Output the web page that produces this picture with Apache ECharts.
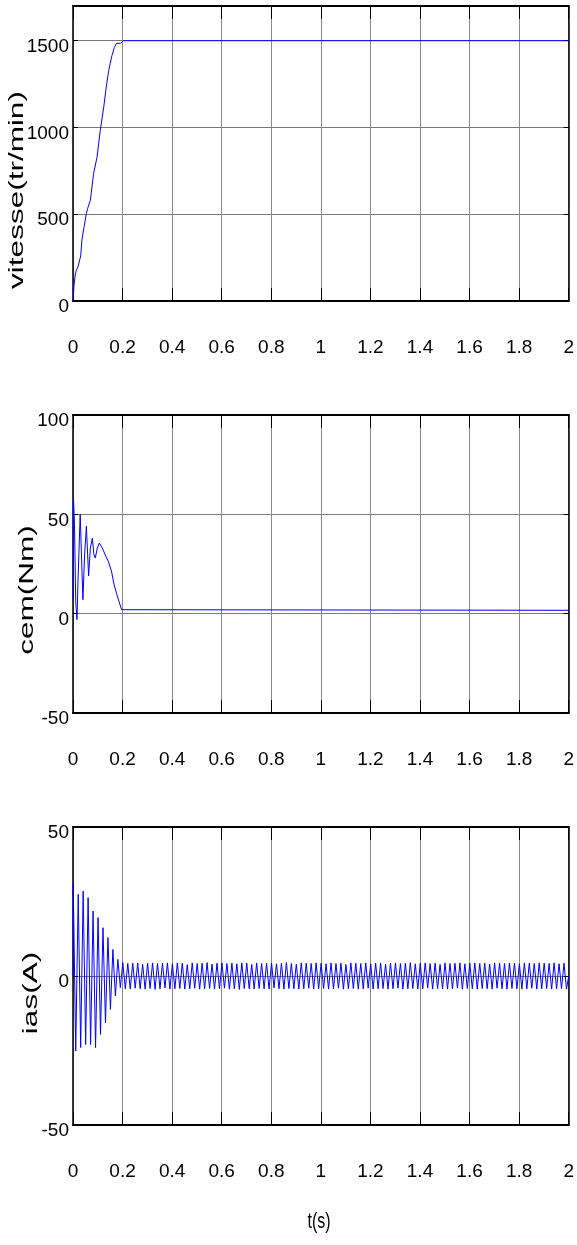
<!DOCTYPE html>
<html>
<head>
<meta charset="utf-8">
<script src="https://cdn.jsdelivr.net/npm/echarts@6/dist/echarts.min.js"></script>
<style>
  html, body { margin: 0; padding: 0; background: #fff; }
  #chart { width: 577px; height: 1245px; }
</style>
</head>
<body>
<div id="chart"></div>
<script>
// ---- time axis (s) ----
const tMin = 0, tMax = 2, tStep = 0.2;

// ---- speed: vitesse (tr/min) ----
const speedT = [0, 0.004, 0.009, 0.0134, 0.02, 0.027, 0.031, 0.036, 0.045, 0.054, 0.059, 0.07, 0.083, 0.097, 0.11, 0.124, 0.134, 0.144, 0.157, 0.167, 0.175, 0.183, 0.191, 0.197, 0.204, 2.0];
const speedV = [0, 90, 150, 178, 196, 201, 260, 351, 430, 504, 533, 580, 734, 829, 983, 1117, 1232, 1328, 1414, 1461, 1485, 1486, 1485, 1492, 1500, 1500];

// ---- electromagnetic torque: cem (Nm) ----
const cemT = [0, 0.002, 0.004, 0.006, 0.011, 0.016, 0.021, 0.029, 0.035, 0.040, 0.047, 0.054, 0.059, 0.063, 0.070, 0.078, 0.084, 0.090, 0.098, 0.106, 0.114, 0.122, 0.132, 0.142, 0.150, 0.156, 0.165, 0.176, 0.186, 0.196, 0.200, 2.0];
const cemV = [8, 58, 59, 45, 6, -3, 20, 50, 26, 7, 30, 44, 30, 19, 33, 38, 30, 28, 33, 35.5, 34, 32, 29, 26.5, 23.5, 21, 15, 10, 6, 2, 1.7, 1.7];

// ---- stator current: ias (A), successive crest values every half period ----
const iasStart = 0.001;      // first crest time (s)
const iasHalfPeriod = 0.01;  // 50 Hz supply
const iasCrests = [
  31.0, -25.2, 27.4, -24.0, 28.5, -23.0, 26.3, -23.0, 21.8, -24.0,
  19.6, -19.6, 16.2, -15.7, 12.9, -11.2, 8.9, -6.7, 5.6, -3.9,
  4.5, -4.3, 4.2, -4.4, 4.3, -4.1, 4.4, -4.3, 3.9, -4.4,
  4.3, -4.2, 4.4, -4.5, 4.2, -4.3, 4.3, -4.0, 4.4, -4.4,
  4.1, -4.3, 4.4, -4.2, 4.3, -4.4, 3.8, -4.3, 4.4, -4.1,
  4.2, -4.4, 4.3, -4.3, 4.5, -4.2, 4.0, -4.4, 4.3, -4.3,
  4.4, -4.1, 4.2, -4.4, 4.3, -4.3, 4.1, -4.5, 4.4, -4.2,
  4.3, -4.3, 3.9, -4.4, 4.4, -4.2, 4.2, -4.3, 4.3, -4.4,
  4.4, -4.0, 4.1, -4.3, 4.3, -4.4, 4.5, -4.2, 4.2, -4.3,
  4.0, -4.4, 4.4, -4.3, 4.3, -4.1, 4.2, -4.4, 4.4, -4.3,
  4.3, -4.2, 4.1, -4.4, 4.4, -4.3, 4.2, -4.1, 4.3, -4.4,
  3.9, -4.3, 4.4, -4.2, 4.3, -4.4, 4.2, -4.3, 4.4, -4.1,
  4.1, -4.4, 4.3, -4.3, 4.4, -4.2, 4.0, -4.4, 4.3, -4.3,
  4.4, -4.1, 4.2, -4.4, 4.3, -4.3, 4.5, -4.2, 4.1, -4.4,
  4.3, -4.3, 4.4, -4.0, 4.2, -4.4, 4.3, -4.2, 3.9, -4.3,
  4.4, -4.4, 4.2, -4.3, 4.3, -4.1, 4.4, -4.4, 4.1, -4.2,
  4.3, -4.3, 4.4, -4.4, 4.2, -4.2, 4.3, -4.3, 4.0, -4.4,
  4.4, -4.1, 4.3, -4.3, 4.2, -4.4, 4.4, -4.2, 4.3, -4.3,
  4.1, -4.4, 4.4, -4.3, 4.3, -4.1, 4.2, -4.4, 4.4, -4.3,
  4.3, -4.2, 4.2, -4.4, 4.4, -4.3, 4.1, -4.2, 4.3, -4.4
];

// ---- y-axis ranges and tick spacing ----
const speedAxis = { min: 0, max: 1700, interval: 500 };
const cemAxis = { min: -50, max: 100, interval: 50 };
const iasAxis = { min: -50, max: 50, interval: 50 };

// ---- axis titles ----
const yNames = ['vitesse(tr/min)', 'cem(Nm)', 'ias(A)'];
const xName = 't(s)';

// build [t, value] pairs
const zip = (ts, vs) => ts.map((t, i) => [t, vs[i]]);
const iasData = [[0, 0]].concat(iasCrests.map((v, i) => [iasStart + i * iasHalfPeriod, v]));
iasData.push([tMax, 0]);

const tickFont = "'Liberation Sans', Arial, sans-serif";
const nameFont = "'Liberation Sans', Arial, sans-serif";
const blue = '#0000ff';

const grids = [
  { left: 73, top: 6, width: 496, height: 295 },
  { left: 73, top: 415, width: 496, height: 298 },
  { left: 73, top: 827, width: 496, height: 298 }
];

const fmtX = v => String(Math.round(v * 10) / 10);
const fmtY = v => String(v);

const xAxes = [], yAxes = [];
const ranges = [speedAxis, cemAxis, iasAxis];
grids.forEach((g, i) => {
  xAxes.push({
    type: 'value', gridIndex: i, position: 'bottom',
    min: tMin, max: tMax, interval: tStep,
    axisLine: { show: true, onZero: false, lineStyle: { color: '#000', width: 2 } },
    axisTick: { show: true, inside: true, length: 13, lineStyle: { color: '#000', width: 1 } },
    axisLabel: { show: true, margin: 37, color: '#000', fontFamily: tickFont, fontSize: 19, formatter: fmtX },
    splitLine: { show: true, lineStyle: { color: '#8a8a8a', width: 1 } }
  });
  xAxes.push({
    type: 'value', gridIndex: i, position: 'top',
    min: tMin, max: tMax, interval: tStep,
    axisLine: { show: true, onZero: false, lineStyle: { color: '#000', width: 2 } },
    axisTick: { show: true, inside: true, length: 13, lineStyle: { color: '#000', width: 1 } },
    axisLabel: { show: false },
    splitLine: { show: false }
  });
  const r = ranges[i];
  yAxes.push({
    type: 'value', gridIndex: i, position: 'left',
    min: r.min, max: r.max, interval: r.interval,
    axisLine: { show: true, onZero: false, lineStyle: { color: '#000', width: 1.5 } },
    axisTick: { show: true, inside: true, length: 5, lineStyle: { color: '#000', width: 1 } },
    axisLabel: { show: true, margin: 4, color: '#000', fontFamily: tickFont, fontSize: 19,
                 formatter: fmtY, showMaxLabel: i !== 0,
                 verticalAlign: 'top', lineHeight: 12 },
    splitLine: { show: true, lineStyle: { color: '#7a7a7a', width: 1 } }
  });
  yAxes.push({
    type: 'value', gridIndex: i, position: 'right',
    min: r.min, max: r.max, interval: r.interval,
    axisLine: { show: true, onZero: false, lineStyle: { color: '#000', width: 1.5 } },
    axisTick: { show: true, inside: true, length: 5, lineStyle: { color: '#000', width: 1 } },
    axisLabel: { show: false },
    splitLine: { show: false }
  });
});

const lineSeries = (idx, data) => ({
  type: 'line', xAxisIndex: idx * 2, yAxisIndex: idx * 2,
  data: data, showSymbol: false, symbol: 'none',
  lineStyle: { color: blue, width: 1 }, z: 3
});

// rotated titles, stretched along their reading direction
const yNamePos = [[17, 190], [27, 590], [31, 993]];
const graphics = yNames.map((name, i) => ({
  type: 'text', x: yNamePos[i][0], y: yNamePos[i][1], rotation: Math.PI / 2,
  scaleX: 1.5, scaleY: 1,
  style: { text: name, fill: '#000', font: '21px ' + nameFont, textAlign: 'center', textVerticalAlign: 'middle' }
}));
graphics.push({
  type: 'text', x: 319, y: 1222, scaleX: 1, scaleY: 1.4,
  style: { text: xName, fill: '#000', font: '16px ' + nameFont, textAlign: 'center', textVerticalAlign: 'middle' }
});

const chart = echarts.init(document.getElementById('chart'), null, { renderer: 'canvas' });
chart.setOption({
  animation: false,
  backgroundColor: '#fff',
  grid: grids,
  xAxis: xAxes,
  yAxis: yAxes,
  series: [
    lineSeries(0, zip(speedT, speedV)),
    lineSeries(1, zip(cemT, cemV)),
    lineSeries(2, iasData)
  ],
  graphic: graphics
});
</script>
</body>
</html>
